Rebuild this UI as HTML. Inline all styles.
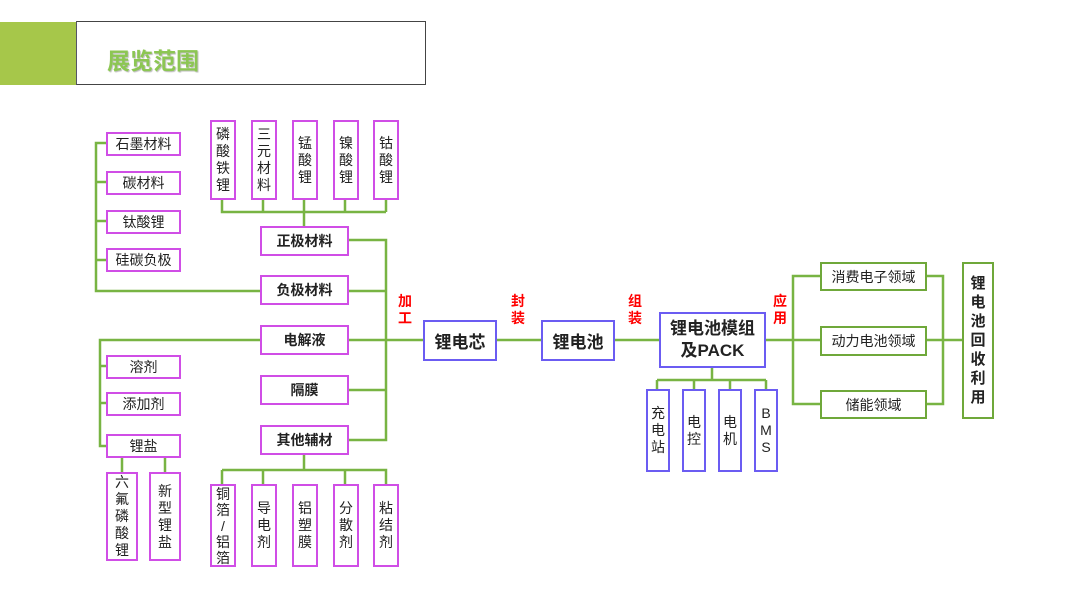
<!DOCTYPE html>
<html><head><meta charset="utf-8"><style>
body{margin:0;width:1080px;height:609px;background:#fff;position:relative;overflow:hidden;font-family:"Liberation Sans","Noto Sans CJK SC",sans-serif;}
.b{position:absolute;box-sizing:border-box;display:flex;align-items:center;justify-content:center;text-align:center;color:#222;background:#fff;}
.m{border:2.5px solid #d04ee6;}
.u{border:2.5px solid #6b5cf2;}
.g{border:2.5px solid #6fa83a;}
.h{font-size:14px;}
.bd{font-weight:bold;font-size:14px;}
.v{font-size:14px;line-height:17px;flex-direction:column;}
.r{position:absolute;color:#f00;font-weight:bold;font-size:14px;line-height:17px;width:16px;text-align:center;}
</style></head><body>
<div style="position:absolute;left:0;top:22px;width:77px;height:63px;background:#a6c74a;"></div>
<div style="position:absolute;left:76px;top:21px;width:350px;height:64px;box-sizing:border-box;border:1.5px solid #444;border-left:1.5px solid #556;"></div>
<div style="position:absolute;left:107px;top:42px;font-size:23px;font-weight:bold;color:#8cc653;text-shadow:1px 1px 1px #bbb;">展览范围</div>
<svg width="1080" height="609" style="position:absolute;left:0;top:0" fill="none" stroke="#78b443" stroke-width="2.5">
<path d="M222 200V212H386M263 200V212M304 200V226M345 200V212M386 200V212"/>
<path d="M348 240H386V440H348M348 291H386M348 390H386M348 340H423"/>
<path d="M180 143H96V291H260M96 182H106M96 221H106M96 260H106"/>
<path d="M260 340H100V446H106M100 366H106M100 403H106"/>
<path d="M122 457V472M165 457V472"/>
<path d="M304 454V470M222 470H386V484M222 470V484M263 470V484M345 470V484"/>
<path d="M496 340H541M614 340H659M765 340H820"/>
<path d="M712 367V380M657 380H766M657 380V389M694 380V389M730 380V389M766 380V389"/>
<path d="M820 276H793V404H820M926 276H943V404H926M926 340H962"/>
</svg>
<div class="b m v" style="left:210px;top:120px;width:26px;height:80px">磷<br>酸<br>铁<br>锂</div>
<div class="b m v" style="left:251px;top:120px;width:26px;height:80px">三<br>元<br>材<br>料</div>
<div class="b m v" style="left:292px;top:120px;width:26px;height:80px">锰<br>酸<br>锂</div>
<div class="b m v" style="left:333px;top:120px;width:26px;height:80px">镍<br>酸<br>锂</div>
<div class="b m v" style="left:373px;top:120px;width:26px;height:80px">钴<br>酸<br>锂</div>
<div class="b m bd" style="left:260px;top:226px;width:89px;height:30px">正极材料</div>
<div class="b m bd" style="left:260px;top:275px;width:89px;height:30px">负极材料</div>
<div class="b m bd" style="left:260px;top:325px;width:89px;height:30px">电解液</div>
<div class="b m bd" style="left:260px;top:375px;width:89px;height:30px">隔膜</div>
<div class="b m bd" style="left:260px;top:425px;width:89px;height:30px">其他辅材</div>
<div class="b m h" style="left:106px;top:132px;width:75px;height:24px">石墨材料</div>
<div class="b m h" style="left:106px;top:171px;width:75px;height:24px">碳材料</div>
<div class="b m h" style="left:106px;top:210px;width:75px;height:24px">钛酸锂</div>
<div class="b m h" style="left:106px;top:248px;width:75px;height:24px">硅碳负极</div>
<div class="b m h" style="left:106px;top:355px;width:75px;height:24px">溶剂</div>
<div class="b m h" style="left:106px;top:392px;width:75px;height:24px">添加剂</div>
<div class="b m h" style="left:106px;top:434px;width:75px;height:24px">锂盐</div>
<div class="b m v" style="left:106px;top:472px;width:32px;height:89px">六<br>氟<br>磷<br>酸<br>锂</div>
<div class="b m v" style="left:149px;top:472px;width:32px;height:89px">新<br>型<br>锂<br>盐</div>
<div class="b m v" style="left:210px;top:484px;width:26px;height:83px;line-height:16px">铜<br>箔<br>/<br>铝<br>箔</div>
<div class="b m v" style="left:251px;top:484px;width:26px;height:83px">导<br>电<br>剂</div>
<div class="b m v" style="left:292px;top:484px;width:26px;height:83px">铝<br>塑<br>膜</div>
<div class="b m v" style="left:333px;top:484px;width:26px;height:83px">分<br>散<br>剂</div>
<div class="b m v" style="left:373px;top:484px;width:26px;height:83px">粘<br>结<br>剂</div>
<div class="r" style="left:397px;top:293px">加<br>工</div>
<div class="r" style="left:510px;top:293px">封<br>装</div>
<div class="r" style="left:627px;top:293px">组<br>装</div>
<div class="r" style="left:772px;top:293px">应<br>用</div>
<div class="b u" style="left:423px;top:320px;width:74px;height:41px;font-weight:bold;font-size:17px">锂电芯</div>
<div class="b u" style="left:541px;top:320px;width:74px;height:41px;font-weight:bold;font-size:17px">锂电池</div>
<div class="b u" style="left:659px;top:312px;width:107px;height:56px;font-weight:bold;font-size:17px;line-height:22px">锂电池模组<br>及PACK</div>
<div class="b u v" style="left:646px;top:389px;width:24px;height:83px">充<br>电<br>站</div>
<div class="b u v" style="left:682px;top:389px;width:24px;height:83px">电<br>控</div>
<div class="b u v" style="left:718px;top:389px;width:24px;height:83px">电<br>机</div>
<div class="b u v" style="left:754px;top:389px;width:24px;height:83px">B<br>M<br>S</div>
<div class="b g h" style="left:820px;top:262px;width:107px;height:29px">消费电子领域</div>
<div class="b g h" style="left:820px;top:326px;width:107px;height:30px">动力电池领域</div>
<div class="b g h" style="left:820px;top:390px;width:107px;height:29px">储能领域</div>
<div class="b g v" style="left:962px;top:262px;width:32px;height:157px;font-weight:bold;font-size:15px;line-height:19px">锂<br>电<br>池<br>回<br>收<br>利<br>用</div>
</body></html>
